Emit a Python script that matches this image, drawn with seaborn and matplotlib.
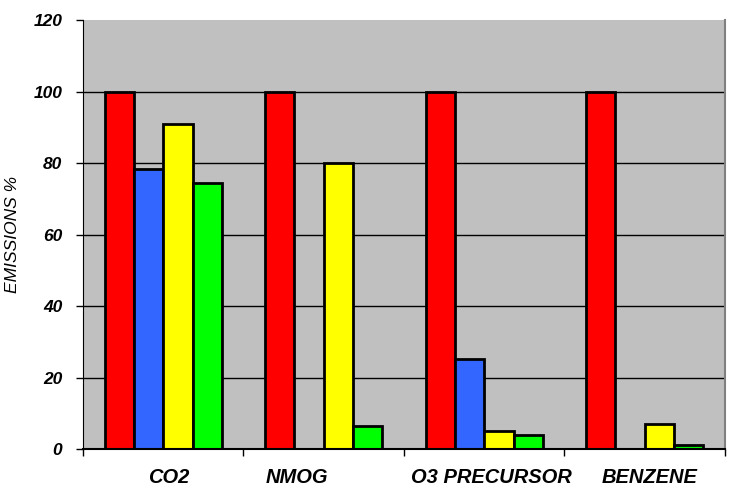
import seaborn as sns
import matplotlib.pyplot as plt
import matplotlib.transforms as mtransforms
import pandas as pd
import numpy as np

categories = ["CO2", "NMOG", "O3 PRECURSOR", "BENZENE"]
series = ["s1", "s2", "s3", "s4"]
red_vals = [100, 100, 100, 100]
blue_vals = [78.3, np.nan, 25.2, np.nan]
yellow_vals = [90.8, 80, 5, 7]
green_vals = [74.4, 6.3, 4, 1]
colors = ["#FF0000", "#3366FF", "#FFFF00", "#00FF00"]

rows = []
for s, vals in zip(series, [red_vals, blue_vals, yellow_vals, green_vals]):
    for c, v in zip(categories, vals):
        rows.append({"cat": c, "series": s, "value": v})
df = pd.DataFrame(rows)

sns.set_style("white")
plt.rcParams['font.family'] = ['Liberation Sans', 'DejaVu Sans']
plt.rcParams['text.color'] = 'black'
plt.rcParams['axes.labelcolor'] = 'black'
plt.rcParams['xtick.color'] = 'black'
plt.rcParams['ytick.color'] = 'black'

fig = plt.figure(figsize=(7.31, 4.88), dpi=100)
ax = fig.add_axes([0.1135, 0.0799, 0.8783, 0.8791])
ax.set_facecolor("#C0C0C0")

sns.barplot(data=df.dropna(), x="cat", y="value", hue="series", order=categories,
            hue_order=series, palette=colors, width=0.73, gap=0,
            edgecolor="black", linewidth=2, saturation=1, legend=False, ax=ax,
            errorbar=None)

ax.set_ylim(0, 120)
ax.set_xlim(-0.5, 3.5)
ax.set_yticks(range(0, 121, 20))
ax.yaxis.grid(True, color="black", linewidth=1)
ax.get_ygridlines()[-1].set_visible(False)
ax.set_axisbelow(True)
ax.set_yticklabels([str(v) for v in range(0, 121, 20)], fontsize=12.5,
                   fontweight="bold", fontstyle="italic")
ax.tick_params(axis="y", direction="out", length=5, width=1, color="black", left=True, pad=10)

ax.set_xticks(range(4))
ax.set_xticklabels(categories, fontsize=14.5, fontweight="bold", fontstyle="italic")
ax.tick_params(axis="x", which="major", length=0, pad=14)
ax.set_xticks([-0.5, 0.5, 1.5, 2.5, 3.5], minor=True)
ax.tick_params(axis="x", which="minor", direction="out", length=5, width=1, color="black", bottom=True)

# label shifts in pixels, as in the original layout
shifts = [5, -27, 7, 5]
for lab, dx in zip(ax.get_xticklabels(), shifts):
    lab.set_transform(lab.get_transform() + mtransforms.ScaledTranslation(dx / 100, 0, fig.dpi_scale_trans))

ax.set_xlabel("")
ax.set_ylabel("EMISSIONS %", fontsize=12.5, fontstyle="italic")
ax.yaxis.set_label_coords(-0.098, 0.5)

ax.spines["top"].set_visible(False)
ax.spines["right"].set_color("#808080")
ax.spines["right"].set_linewidth(1.5)
ax.spines["left"].set_color("black")
ax.spines["bottom"].set_color("black")
ax.spines["bottom"].set_linewidth(1.5)

plt.savefig("out.png", dpi=100)
